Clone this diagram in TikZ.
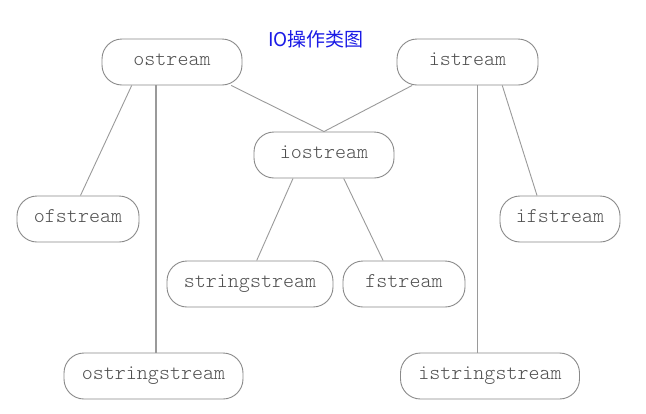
\documentclass[tikz,border=0pt]{standalone}
\usepackage{fontspec}
\newfontfamily\clsfont{lmmonolt10-regular.otf}
\newfontfamily\cjkfont{Noto Sans CJK SC}
\usetikzlibrary{calc}
\definecolor{boxline}{HTML}{8A8A8A}
\definecolor{linkline}{HTML}{9A9A9A}
\definecolor{txt}{HTML}{505050}
\definecolor{titleblue}{HTML}{1A1AE6}
\begin{document}
\begin{tikzpicture}[x=1pt,y=-1pt,
  cls/.style={draw=boxline, line width=0.9pt, rounded corners=20pt, minimum height=46pt,
    inner sep=0pt, text height=9pt, text depth=3pt, text=txt, font=\clsfont\fontsize{21}{22}\selectfont},
  link/.style={draw=linkline, line width=0.9pt},
  thicklink/.style={draw=linkline, line width=2.6pt}]
\useasboundingbox[fill=white] (0,0) rectangle (646,413);
\node[text=titleblue, font=\cjkfont\fontsize{19}{22}\selectfont] (title) at (316,39) {IO操作类图};
\node[cls, minimum width=140pt] (ostream) at (172,62) {ostream};
\node[cls, minimum width=141pt] (istream) at (467.5,62) {istream};
\node[cls, minimum width=140pt] (iostream) at (324,155) {iostream};
\node[cls, minimum width=122pt] (ofstream) at (78,219) {ofstream};
\node[cls, minimum width=120pt] (ifstream) at (560,219) {ifstream};
\node[cls, minimum width=166pt] (stringstream) at (250,284) {stringstream};
\node[cls, minimum width=122pt] (fstream) at (404,284) {fstream};
\node[cls, minimum width=179pt] (ostringstream) at (153.5,376) {ostringstream};
\node[cls, minimum width=179pt] (istringstream) at (490,376) {istringstream};
% connectors
\draw[link] ($(ostream.south west)!0.214!(ostream.south east)$) -- ($(ofstream.north west)!0.52!(ofstream.north east)$);
\coordinate (ov) at ($(ostream.south west)!0.386!(ostream.south east)$);
\draw[thicklink] (ov) -- (ov |- ostringstream.north);
\draw[link] ($(ostream.south west)!0.92!(ostream.south east)$) -- (iostream.north);
\draw[link] ($(istream.south west)!0.11!(istream.south east)$) -- (iostream.north);
\coordinate (iv) at ($(istream.south west)!0.567!(istream.south east)$);
\draw[link] (iv) -- (iv |- istringstream.north);
\draw[link] ($(istream.south west)!0.745!(istream.south east)$) -- ($(ifstream.north west)!0.31!(ifstream.north east)$);
\draw[link] ($(iostream.south west)!0.28!(iostream.south east)$) -- ($(stringstream.north west)!0.54!(stringstream.north east)$);
\draw[link] ($(iostream.south west)!0.64!(iostream.south east)$) -- ($(fstream.north west)!0.33!(fstream.north east)$);
\end{tikzpicture}
\end{document}
